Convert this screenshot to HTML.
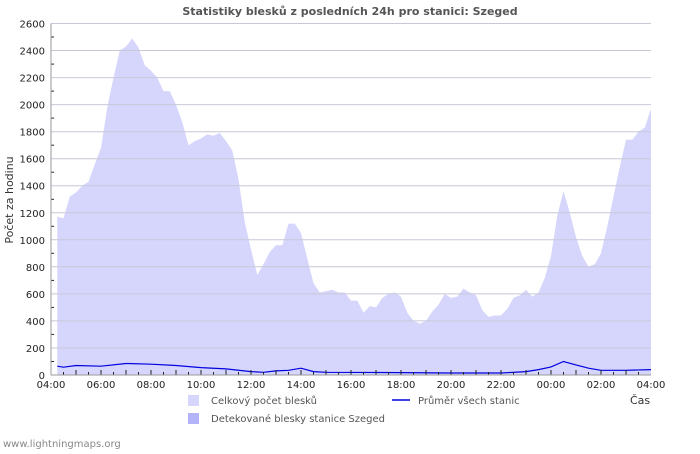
<!DOCTYPE html>
<html><head><meta charset="utf-8"><style>
body{margin:0;background:#fff;width:700px;height:450px;overflow:hidden;font-family:"DejaVu Sans","Liberation Sans",sans-serif}
svg text{font-family:"DejaVu Sans","Liberation Sans",sans-serif}
</style></head><body>
<svg id="s" width="700" height="450" xmlns="http://www.w3.org/2000/svg">
<text x="350" y="15" text-anchor="middle" font-size="11" font-weight="bold" fill="#555">Statistiky blesků z posledních 24h pro stanici: Szeged</text>
<path id="area" fill="#d6d6fc"/>
<g id="grid"></g>
<path id="avg" fill="none" stroke="#0000e0" stroke-width="1.2"/>
<g id="axes"></g>
<text transform="translate(13,200) rotate(-90)" text-anchor="middle" font-size="11" fill="#333">Počet za hodinu</text>
<text x="630" y="404" font-size="11" fill="#333">Čas</text>
<rect x="188" y="395" width="11" height="11" fill="#d6d6fc"/>
<text x="211" y="404" font-size="10" fill="#555">Celkový počet blesků</text>
<rect x="188" y="413" width="11" height="11" fill="#b3b3fa"/>
<text x="211" y="422" font-size="10" fill="#555">Detekované blesky stanice Szeged</text>
<line x1="392" y1="400" x2="410" y2="400" stroke="#0000e0" stroke-width="1.5"/>
<text x="418" y="404" font-size="10" fill="#555">Průměr všech stanic</text>
<text x="3" y="447" font-size="10" fill="#888">www.lightningmaps.org</text>
</svg>
<script>
var X0=51,X1=651,Y0=375,Yt=23.5,k=(Y0-Yt)/2600;
function x(h){return X0+25*h}function y(v){return Y0-v*k}
var tot=[1170,1160,1320,1350,1400,1430,1560,1680,1980,2200,2400,2430,2490,2420,2290,2250,2200,2100,2100,2000,1870,1700,1730,1750,1780,1770,1790,1730,1660,1450,1130,930,740,820,910,960,960,1120,1120,1050,860,680,610,620,630,610,610,550,550,460,510,500,570,600,610,580,460,400,380,400,470,520,600,570,580,640,610,590,480,430,440,440,490,570,590,630,580,610,720,880,1180,1360,1200,1020,880,800,820,900,1100,1320,1540,1740,1740,1800,1830,1970];
var av=[[0.25,65],[0.5,58],[1,70],[2,65],[3,85],[4,80],[5,70],[6,55],[7,45],[8,25],[8.5,20],[9,30],[9.5,35],[10,50],[10.5,25],[11,20],[14,18],[16,15],[18,15],[19,25],[19.5,40],[20,60],[20.5,100],[21,75],[21.5,50],[22,35],[23,35],[24,40]];
var d="M"+x(0.25)+","+Y0;
for(var i=0;i<tot.length;i++){var h=0.25+i*0.25;d+="L"+x(h).toFixed(1)+","+y(tot[i]).toFixed(1);}
d+="L"+x(24)+","+Y0+"Z";document.getElementById("area").setAttribute("d",d);
var a="";av.forEach(function(p,i){a+=(i?"L":"M")+x(p[0]).toFixed(1)+","+y(p[1]).toFixed(1)});
document.getElementById("avg").setAttribute("d",a);
var g="",ax="";
for(var v=0;v<=2600;v+=200){var yy=y(v).toFixed(1);if(v>0)g+='<line x1="'+X0+'" y1="'+yy+'" x2="'+X1+'" y2="'+yy+'" stroke="#c8c8d8" stroke-width="1"/>';
ax+='<text x="45" y="'+(+yy+4)+'" text-anchor="end" font-size="10" fill="#222">'+v+'</text>';
if(v<2600){var ym=y(v+100).toFixed(1);ax+='<line x1="'+(X0)+'" y1="'+ym+'" x2="'+(X0+3)+'" y2="'+ym+'" stroke="#222"/>';}}
for(var h=0;h<=24;h+=2){var hh=(4+h)%24;ax+='<text x="'+x(h)+'" y="388" text-anchor="middle" font-size="10" fill="#222">'+(hh<10?"0":"")+hh+':00</text>';}
for(var h=0.5;h<24;h+=0.5){var L=(h%1==0)?5:3;ax+='<line x1="'+x(h)+'" y1="'+Y0+'" x2="'+x(h)+'" y2="'+(Y0-L)+'" stroke="#222"/>';}
ax+='<line x1="'+X0+'" y1="'+Yt+'" x2="'+X0+'" y2="'+Y0+'" stroke="#999"/><line x1="'+X0+'" y1="'+Y0+'" x2="'+X1+'" y2="'+Y0+'" stroke="#999"/>';
document.getElementById("grid").innerHTML=g;document.getElementById("axes").innerHTML=ax;
</script>
</body></html>
